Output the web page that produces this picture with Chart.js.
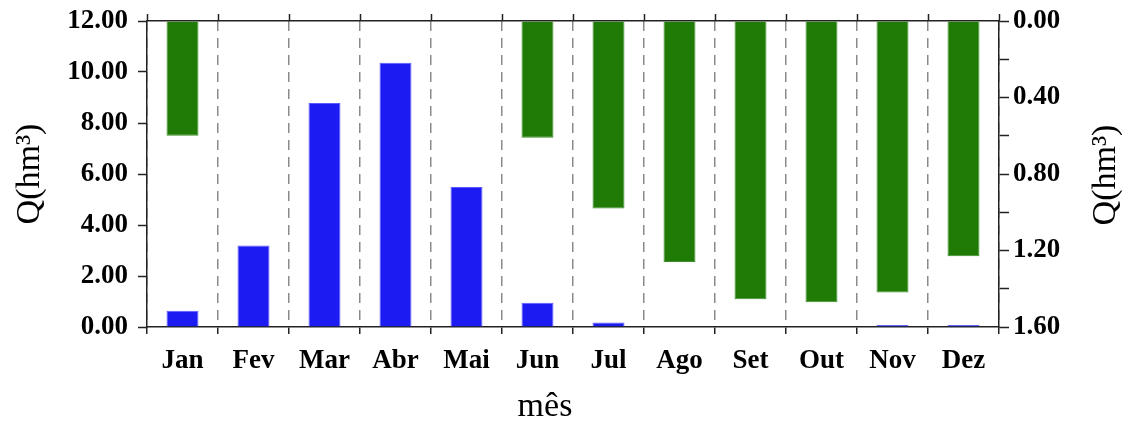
<!DOCTYPE html>
<html>
<head>
<meta charset="utf-8">
<script src="https://cdn.jsdelivr.net/npm/chart.js@4"></script>
<style>
  html, body { margin: 0; padding: 0; background: #ffffff; }
  #wrap { width: 1127px; height: 421px; position: relative; }
</style>
</head>
<body>
<div id="wrap"><canvas id="c"></canvas></div>
<script>
const categories = ['Jan','Fev','Mar','Abr','Mai','Jun','Jul','Ago','Set','Out','Nov','Dez'];
const blueValues = [0.64, 3.20, 8.78, 10.36, 5.49, 0.95, 0.18, 0, 0, 0, 0.08, 0.08];
const greenValues = [0.60, 0, 0, 0, 0, 0.61, 0.98, 1.26, 1.455, 1.47, 1.42, 1.23];
const leftTitle = 'Q(hm³)';
const rightTitle = 'Q(hm³)';
const xTitle = 'mês';

const SERIF = "'Liberation Serif', 'Times New Roman', serif";
const AXIS = '#222222';

const titlesPlugin = {
  id: 'titles',
  afterDraw(chart) {
    const ctx = chart.ctx;
    ctx.save();
    ctx.fillStyle = '#000';
    ctx.font = '34px ' + SERIF;
    ctx.textAlign = 'center';
    ctx.textBaseline = 'alphabetic';
    ctx.fillText(xTitle, 545, 416);
    ctx.translate(1106, 175);
    ctx.rotate(-Math.PI / 2);
    ctx.font = '34px ' + SERIF;
    ctx.textBaseline = 'middle';
    ctx.fillText(rightTitle, 0, 0);
    ctx.restore();
  }
};

function noPadV(s) { s.paddingTop = 0; s.paddingBottom = 0; }
function noPadH(s) { s.paddingLeft = 0; s.paddingRight = 0; }

new Chart(document.getElementById('c'), {
  type: 'bar',
  data: {
    labels: categories,
    datasets: [
      {
        label: 'blue',
        data: blueValues,
        xAxisID: 'x',
        yAxisID: 'y',
        grouped: false,
        backgroundColor: '#1b1bf2',
        borderColor: '#5a5aff',
        borderWidth: 1,
        barPercentage: 0.45,
        categoryPercentage: 1.0
      },
      {
        label: 'green',
        data: greenValues,
        xAxisID: 'x',
        yAxisID: 'y1',
        grouped: false,
        backgroundColor: '#1f7a06',
        borderColor: '#3c8f2a',
        borderWidth: 1,
        barPercentage: 0.45,
        categoryPercentage: 1.0
      }
    ]
  },
  options: {
    responsive: true,
    maintainAspectRatio: false,
    animation: false,
    layout: { padding: 0 },
    plugins: { legend: { display: false }, tooltip: { enabled: false } },
    scales: {
      x: {
        type: 'category',
        position: 'bottom',
        offset: true,
        grid: {
          offset: true,
          color: '#8a8a8a',
          lineWidth: 1.5,
          tickBorderDash: [],
          tickColor: AXIS,
          tickWidth: 1.5,
          tickLength: 7
        },
        border: { color: AXIS, width: 1.5, dash: [10, 7] },
        ticks: {
          color: '#000',
          font: { family: SERIF, size: 27, weight: 'bold' },
          padding: 11,
          maxRotation: 0,
          autoSkip: false
        },
        afterFit(s) { s.height = 94; noPadH(s); }
      },
      x2: {
        type: 'category',
        position: 'top',
        labels: categories,
        offset: true,
        grid: {
          offset: true,
          drawOnChartArea: false,
          tickColor: AXIS,
          tickWidth: 1.5,
          tickLength: 7
        },
        border: { color: AXIS, width: 1.5 },
        ticks: { display: false },
        afterFit(s) { s.height = 21; noPadH(s); }
      },
      y: {
        position: 'left',
        min: 0,
        max: 12,
        grid: {
          drawOnChartArea: false,
          tickColor: AXIS,
          tickWidth: 1.5,
          tickLength: 9
        },
        border: { color: AXIS, width: 1.5 },
        ticks: {
          stepSize: 2,
          autoSkip: false,
          color: '#000',
          padding: 10,
          font: { family: SERIF, size: 27, weight: 'bold' },
          callback: (v) => Number(v).toFixed(2)
        },
        title: {
          display: true,
          text: leftTitle,
          color: '#000',
          font: { family: SERIF, size: 34, weight: 'normal' },
          padding: { top: 10, bottom: 0 }
        },
        afterFit(s) { s.width = 147; noPadV(s); }
      },
      y1: {
        position: 'right',
        reverse: true,
        min: 0,
        max: 1.6,
        grid: {
          drawOnChartArea: false,
          tickColor: AXIS,
          tickWidth: 1.5,
          tickLength: 10
        },
        border: { color: AXIS, width: 1.5 },
        ticks: {
          stepSize: 0.2,
          autoSkip: false,
          color: '#000',
          padding: 4,
          font: { family: SERIF, size: 27, weight: 'bold' },
          callback: (v, i) => (i % 2 === 0 ? Number(v).toFixed(2) : '')
        },
        afterFit(s) { s.width = 128; noPadV(s); }
      }
    }
  },
  plugins: [titlesPlugin]
});
</script>
</body>
</html>
